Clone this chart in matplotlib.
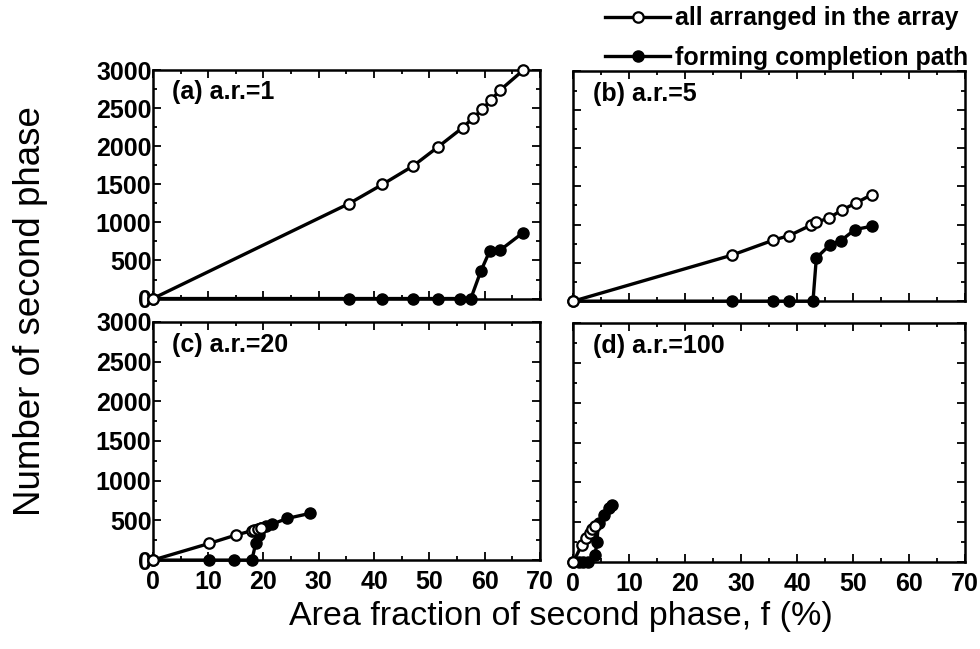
import matplotlib
matplotlib.use("Agg")
import matplotlib.pyplot as plt
from matplotlib.ticker import MultipleLocator

plt.rcParams['font.family'] = ['Liberation Sans', 'DejaVu Sans']

# Panel (a) a.r.=1
a_open_x = [0, 35.5, 41.5, 47.1, 51.6, 56.0, 57.8, 59.6, 61.1, 62.8, 67.0]
a_open_y = [0, 1248, 1498, 1743, 1993, 2243, 2365, 2488, 2606, 2737, 3000]
a_fill_x = [0, 35.5, 41.5, 47.1, 51.6, 55.6, 57.5, 59.3, 60.9, 62.8, 66.9]
a_fill_y = [0, 0, 0, 0, 0, 0, 0, 359, 622, 635, 863]

# Panel (b) a.r.=5
b_open_x = [0, 28.3, 35.7, 38.6, 42.4, 43.4, 45.7, 47.9, 50.5, 53.3]
b_open_y = [0, 600, 796, 857, 991, 1030, 1087, 1187, 1283, 1391]
b_fill_x = [0, 28.3, 35.7, 38.6, 42.8, 43.4, 45.9, 47.8, 50.3, 53.3]
b_fill_y = [0, 0, 0, 0, 0, 565, 739, 791, 935, 978]

# Panel (c) a.r.=20
c_open_x = [0, 10.2, 15.0, 17.9, 18.3, 19.0, 19.6]
c_open_y = [0, 210, 315, 370, 378, 390, 400]
c_fill_x = [0, 10.2, 14.7, 17.9, 18.6, 19.2, 19.5, 20.4, 21.6, 24.3, 28.4]
c_fill_y = [0, 0, 0, 0, 210, 315, 400, 428, 454, 525, 588]

# Panel (d) a.r.=100
d_open_x = [0, 1.5, 2.3, 2.9, 3.3, 3.8]
d_open_y = [0, 214, 298, 361, 412, 450]
d_fill_x = [0, 1.0, 1.8, 2.7, 3.9, 4.2, 4.5, 5.4, 6.3, 6.9]
d_fill_y = [0, 0, 0, 0, 88, 250, 487, 592, 676, 718]

panel_labels = ["(a) a.r.=1", "(b) a.r.=5", "(c) a.r.=20", "(d) a.r.=100"]
series_labels = ["all arranged in the array", "forming completion path"]
x_ticks = [0, 10, 20, 30, 40, 50, 60, 70]
y_ticks = [0, 500, 1000, 1500, 2000, 2500, 3000]

data = [
    (a_open_x, a_open_y, a_fill_x, a_fill_y),
    (b_open_x, b_open_y, b_fill_x, b_fill_y),
    (c_open_x, c_open_y, c_fill_x, c_fill_y),
    (d_open_x, d_open_y, d_fill_x, d_fill_y),
]

fig = plt.figure(figsize=(9.8, 6.49), dpi=100)
rects = [
    [0.156, 0.540, 0.395, 0.352],
    [0.585, 0.536, 0.400, 0.354],
    [0.156, 0.137, 0.395, 0.367],
    [0.585, 0.134, 0.400, 0.368],
]

tick_fs = 18
handles = None
for i, (rect, (ox, oy, fx, fy), lab) in enumerate(zip(rects, data, panel_labels)):
    ax = fig.add_axes(rect)
    h2, = ax.plot(fx, fy, '-', color='black', lw=2.4, marker='o', ms=8,
                  mfc='black', mec='black', clip_on=False, zorder=3)
    h1, = ax.plot(ox, oy, '-', color='black', lw=2.4, marker='o', ms=7.5,
                  mfc='white', mec='black', mew=1.6, clip_on=False, zorder=4)
    if handles is None:
        handles = [h1, h2]
    ax.set_xlim(0, 70)
    ax.set_ylim(0, 3000)
    ax.set_xticks(x_ticks)
    ax.set_yticks(y_ticks)
    ax.xaxis.set_minor_locator(MultipleLocator(5))
    ax.yaxis.set_minor_locator(MultipleLocator(250))
    ax.tick_params(which='both', direction='in', top=True, right=True,
                   width=1.3, labelsize=tick_fs)
    ax.tick_params(which='major', length=6)
    ax.tick_params(which='minor', length=3)
    for sp in ax.spines.values():
        sp.set_linewidth(1.8)
    if i in (1, 3):
        ax.set_yticklabels([])
    if i in (0, 1):
        ax.set_xticklabels([])
    for t in ax.get_xticklabels() + ax.get_yticklabels():
        t.set_fontweight('bold')
    ax.tick_params(axis='y', pad=1)
    ax.tick_params(axis='x', pad=7)
    ax.text(0.05, 0.955, lab, transform=ax.transAxes, ha='left', va='top',
            fontsize=18, fontweight='bold')

fig.text(0.031, 0.52, "Number of second phase", rotation=90, ha='center',
         va='center', fontsize=26.5)
fig.text(0.572, 0.050, "Area fraction of second phase, f (%)", ha='center',
         va='center', fontsize=24.5)

fig.legend(handles, series_labels, loc='upper right',
           bbox_to_anchor=(0.988, 0.99), borderaxespad=0, borderpad=0,
           frameon=False, handlelength=2.6, handletextpad=0.2,
           labelspacing=0.62, prop={'weight': 'bold', 'size': 18})

fig.savefig("out.png", dpi=100)
